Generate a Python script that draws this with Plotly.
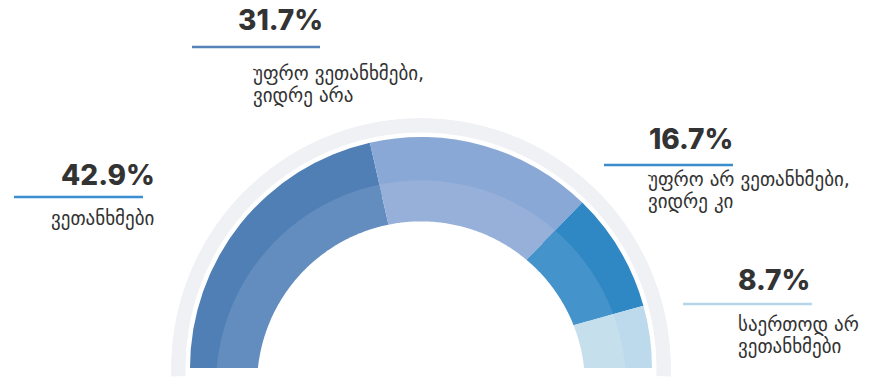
import math
import plotly.graph_objects as go

# ---- data -------------------------------------------------------------
categories = [
    "ვეთანხმები",
    "უფრო ვეთანხმები,<br>ვიდრე არა",
    "უფრო არ ვეთანხმები,<br>ვიდრე კი",
    "საერთოდ არ<br>ვეთანხმები",
]
shares = [42.9, 31.7, 16.7, 8.7]
value_labels = [f"{v:.1f}%" for v in shares]

outer_colors = ["#4f7fb5", "#8aa8d5", "#2f88c4", "#bcdaeb"]
inner_colors = ["#638dbf", "#96b0da", "#4494cb", "#c5dfed"]
rule_colors = ["#3a8fd2", "#5682b7", "#3a8ccb", "#b4d5ea"]

# ---- geometry (pixels) ------------------------------------------------
W, H = 888, 377
CX, CY = 421, 368          # centre of the gauge
R_AXIS = 250               # radial axis length in px
SECTOR = [-2, 182]
OUTER_BASE, OUTER_TOP = 175, 231
RING_IN, RING_OUT = 235.5, 250
# lighter inner band: circle centred a bit below the gauge centre
BAND_DROP = 17.4
BAND_IN, BAND_OUT = 164, 205

# polar domain so that the centre and radius land where wanted
ymin = math.sin(math.radians(SECTOR[0]))
dom_x = [(CX - R_AXIS) / W, (CX + R_AXIS) / W]
dom_y = [(H - (CY - R_AXIS * ymin)) / H, (H - (CY - R_AXIS)) / H]
dom_y[0] = max(dom_y[0], 0.0)

# slice angles: start at the left (180 deg) and run clockwise
total = sum(shares)
edges = [180.0]
for v in shares:
    edges.append(edges[-1] - 180.0 * v / total)
mids = [(a + b) / 2 for a, b in zip(edges[:-1], edges[1:])]
spans = [a - b for a, b in zip(edges[:-1], edges[1:])]


def dist_to_band(phi_deg, rho):
    """Distance from the gauge centre, along direction phi, to a circle of
    radius rho centred BAND_DROP px below the gauge centre."""
    s = math.sin(math.radians(phi_deg))
    d = BAND_DROP
    return -d * s + math.sqrt(d * d * s * s - d * d + rho * rho)


fig = go.Figure()

# pale background ring
fig.add_trace(go.Barpolar(
    r=[RING_OUT - RING_IN], base=[RING_IN], theta=[90], width=[SECTOR[1] - SECTOR[0]],
    marker=dict(color="#eff1f4", line=dict(width=0)),
    hoverinfo="skip", showlegend=False,
))

# darker outer band of each slice
fig.add_trace(go.Barpolar(
    r=[OUTER_TOP - OUTER_BASE] * len(shares), base=[OUTER_BASE] * len(shares),
    theta=mids, width=spans,
    marker=dict(color=outer_colors, line=dict(width=0)),
    customdata=[c.replace("<br>", " ") for c in categories],
    hovertemplate="%{customdata}<extra></extra>",
    showlegend=False,
))

# lighter inner band of each slice
for i in range(len(shares)):
    a, b = edges[i], edges[i + 1]
    n = max(int((a - b) * 2), 2)
    phis = [a - (a - b) * k / n for k in range(n + 1)]
    r_out = [dist_to_band(p, BAND_OUT) for p in phis]
    r_in = [dist_to_band(p, BAND_IN) for p in reversed(phis)]
    fig.add_trace(go.Scatterpolar(
        r=r_out + r_in + [r_out[0]],
        theta=phis + list(reversed(phis)) + [phis[0]],
        mode="lines", fill="toself", fillcolor=inner_colors[i],
        line=dict(width=0, color=inner_colors[i]),
        hoverinfo="skip", showlegend=False,
    ))

# ---- labels -----------------------------------------------------------
# (value left, value y, rule x0, rule x1, rule y, text left, text block centre y)
label_pos = [
    (59, 175, 14, 143, 197, 49, 218),
    (236, 20, 192, 320, 47, 251, 85),
    (647, 139, 604, 733, 165, 646, 190.5),
    (736, 280, 683, 812, 304, 736, 335),
]
BASE_SIZE = 17.3   # sets the line pitch (1.3 em)
GLYPH_SIZE = 19    # size of the drawn glyphs


def px(x):
    return x / W


def py(y):
    return 1 - y / H


annotations = []
shapes = []
for i, (vx, vy, rx0, rx1, ry, tx, ty) in enumerate(label_pos):
    annotations.append(dict(
        x=px(vx), y=py(vy), xref="paper", yref="paper",
        xanchor="left", yanchor="middle", showarrow=False,
        text=value_labels[i],
        font=dict(family="Inter, Roboto, sans-serif", size=28,
                  color="#333333", weight=800),
    ))
    lines = categories[i].split("<br>")
    text = "<br>".join(
        f'<span style="font-size:{GLYPH_SIZE}px">{ln}</span>' for ln in lines
    )
    annotations.append(dict(
        x=px(tx), y=py(ty), xref="paper", yref="paper",
        xanchor="left", yanchor="middle", align="left", showarrow=False,
        text=text,
        font=dict(family="DejaVu Sans, Noto Sans, sans-serif", size=BASE_SIZE,
                  color="#333333"),
    ))
    shapes.append(dict(
        type="line", xref="paper", yref="paper",
        x0=px(rx0), x1=px(rx1), y0=py(ry), y1=py(ry),
        line=dict(color=rule_colors[i], width=2.5),
    ))

fig.update_layout(
    width=W, height=H,
    margin=dict(l=0, r=0, t=0, b=0),
    paper_bgcolor="white", plot_bgcolor="white",
    polar=dict(
        domain=dict(x=dom_x, y=dom_y),
        sector=SECTOR,
        hole=0,
        bgcolor="rgba(0,0,0,0)",
        radialaxis=dict(range=[0, R_AXIS], visible=False, showgrid=False,
                        showline=False, showticklabels=False, ticks=""),
        angularaxis=dict(visible=False, showgrid=False, showline=False,
                         showticklabels=False, ticks="", rotation=0,
                         direction="counterclockwise"),
    ),
    annotations=annotations,
    shapes=shapes,
    showlegend=False,
)

fig.write_html("out.html")
